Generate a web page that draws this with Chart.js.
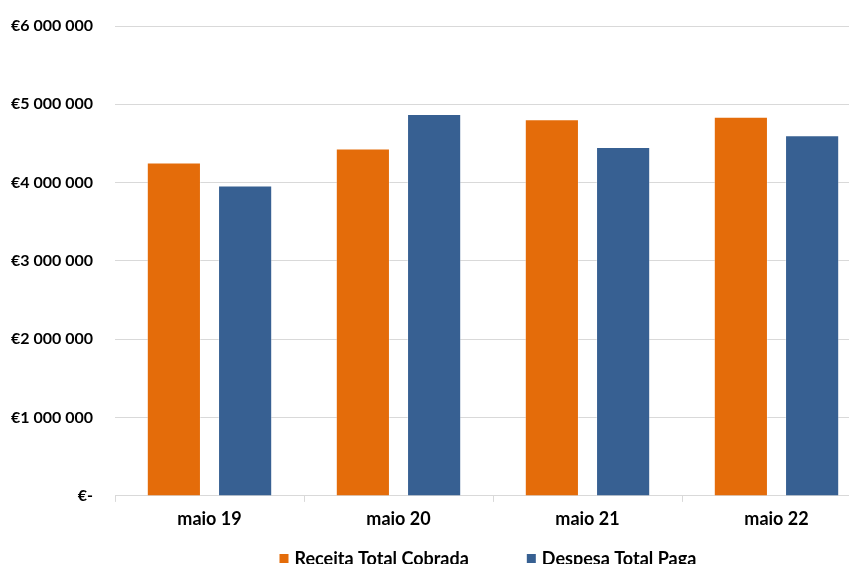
<!DOCTYPE html>
<html>
<head>
<meta charset="utf-8">
<script src="https://cdn.jsdelivr.net/npm/chart.js@4.4.1/dist/chart.umd.min.js"></script>
<style>
    html, body { margin: 0; padding: 0; background: #fff; }
    #wrap { width: 849px; height: 564px; overflow: hidden; position: relative; }
    #chart-box { width: 880px; height: 600px; }
</style>
</head>
<body>
<div id="wrap">
    <div id="chart-box"><canvas id="myChart"></canvas></div>
</div>
<script>
const categories = ['maio 19', 'maio 20', 'maio 21', 'maio 22'];
const receitaCobrada = [4258000, 4437000, 4808000, 4841000];
const despesaPaga = [3964000, 4876000, 4454000, 4604000];
const yTickLabels = ['€-', '€1 000 000', '€2 000 000', '€3 000 000', '€4 000 000', '€5 000 000', '€6 000 000'];

const FONT = 'Lato, "Open Sans", sans-serif';

// legend drawn by hand so the item spacing matches the original
const bottomLegend = {
    id: 'bottomLegend',
    afterDraw(chart) {
        const ctx = chart.ctx;
        const box = 9, gapText = 6, gapItem = 58;
        const baseY = 565;
        ctx.save();
        ctx.font = 'bold 18px ' + FONT;
        ctx.textBaseline = 'alphabetic';
        ctx.textAlign = 'left';
        let x = 279.5;
        chart.data.datasets.forEach(ds => {
            ctx.fillStyle = ds.backgroundColor;
            ctx.fillRect(x, 554, box, box);
            ctx.fillStyle = '#000';
            ctx.fillText(ds.label, x + box + gapText, baseY);
            x += box + gapText + ctx.measureText(ds.label).width + gapItem;
        });
        ctx.restore();
    }
};

const ctx = document.getElementById('myChart').getContext('2d');
new Chart(ctx, {
    type: 'bar',
    data: {
        labels: categories,
        datasets: [
            {
                label: 'Receita Total Cobrada',
                data: receitaCobrada,
                backgroundColor: '#E46C0A',
                borderColor: 'rgba(255,255,255,0.35)',
                borderWidth: 1
            },
            {
                label: 'Despesa Total Paga',
                data: despesaPaga,
                backgroundColor: '#376092',
                borderColor: 'rgba(255,255,255,0.35)',
                borderWidth: 1
            }
        ]
    },
    options: {
        responsive: true,
        maintainAspectRatio: false,
        animation: false,
        devicePixelRatio: 1,
        categoryPercentage: 0.754,
        barPercentage: 0.76,
        layout: { padding: { top: 26, right: 9, bottom: 63.5, left: 0 } },
        plugins: {
            legend: { display: false },
            tooltip: { enabled: false }
        },
        scales: {
            x: {
                grid: {
                    drawOnChartArea: false,
                    drawTicks: true,
                    tickLength: 6,
                    color: '#d9d9d9',
                    offset: true
                },
                border: { color: '#d9d9d9' },
                ticks: {
                    color: '#000',
                    padding: 6.5,
                    font: { family: FONT, size: 18, weight: 'bold' }
                }
            },
            y: {
                min: 0,
                max: 6000000,
                afterFit: (scale) => {
                    scale.width = 115;
                    scale.paddingTop = 0;
                    scale.paddingBottom = 0;
                },
                grid: { color: '#d9d9d9', drawTicks: false },
                border: { display: false },
                ticks: {
                    stepSize: 1000000,
                    padding: 22,
                    color: '#000',
                    font: { family: FONT, size: 16, weight: 'bold' },
                    callback: (v) => yTickLabels[Math.round(v / 1000000)]
                }
            }
        }
    },
    plugins: [bottomLegend]
});
</script>
</body>
</html>
